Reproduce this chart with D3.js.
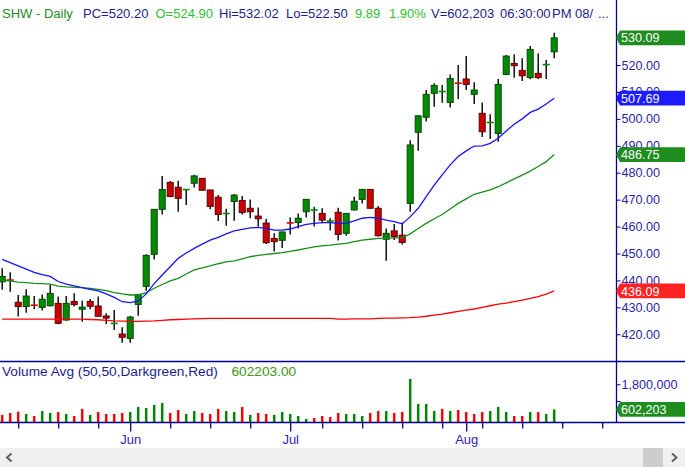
<!DOCTYPE html>
<html><head><meta charset="utf-8">
<script src="https://cdn.jsdelivr.net/npm/d3@7"></script>
<style>body{margin:0;background:#fff;} svg{display:block;font-family:"Liberation Sans",Arial,sans-serif;}</style>
</head><body><svg id="c" width="685" height="467"></svg>
<script>
// ---------- DATA ----------
const dates = [
"2019-05-09","2019-05-10","2019-05-13","2019-05-14","2019-05-15","2019-05-16","2019-05-17","2019-05-20","2019-05-21","2019-05-22",
"2019-05-23","2019-05-24","2019-05-28","2019-05-29","2019-05-30","2019-05-31","2019-06-03","2019-06-04","2019-06-05","2019-06-06",
"2019-06-07","2019-06-10","2019-06-11","2019-06-12","2019-06-13","2019-06-14","2019-06-17","2019-06-18","2019-06-19","2019-06-20",
"2019-06-21","2019-06-24","2019-06-25","2019-06-26","2019-06-27","2019-06-28","2019-07-01","2019-07-02","2019-07-03","2019-07-05",
"2019-07-08","2019-07-09","2019-07-10","2019-07-11","2019-07-12","2019-07-15","2019-07-16","2019-07-17","2019-07-18","2019-07-19",
"2019-07-22","2019-07-23","2019-07-24","2019-07-25","2019-07-26","2019-07-29","2019-07-30","2019-07-31","2019-08-01","2019-08-02",
"2019-08-05","2019-08-06","2019-08-07","2019-08-08","2019-08-09","2019-08-12","2019-08-13","2019-08-14","2019-08-15","2019-08-16"];
const futureDates = ["2019-08-19","2019-08-20","2019-08-21","2019-08-22","2019-08-23","2019-08-26","2019-08-27","2019-08-28","2019-08-29","2019-08-30"];

const opens = [439.5,440.3,431.9,430.3,430.9,430.0,430.6,431.5,425.3,432.2,
429.3,432.2,430.5,426.8,424.0,420.1,418.5,431.1,437.8,449.7,
466.4,476.4,474.6,473.7,476.1,477.9,473.6,470.9,464.8,469.3,
469.7,466.8,463.9,461.3,455.6,454.9,461.4,461.5,465.5,466.1,
464.9,462.0,465.3,457.5,466.2,470.1,473.8,466.8,455.3,458.4,
456.8,468.6,495.0,500.6,509.5,510.1,506.1,513.3,514.8,509.1,
502.05,498.6,494.6,516.5,520.6,518.0,515.3,516.9,520.1,524.90];
const highs = [444.5,443.0,434.6,436.7,434.2,434.8,438.3,434.0,434.2,435.2,
432.5,433.1,434.0,427.8,429.0,422.6,426.8,435.0,449.7,466.5,
478.8,476.9,477.0,474.0,479.2,478.0,473.7,471.7,466.6,472.1,
471.4,470.1,467.1,462.9,457.5,458.1,463.4,464.9,470.2,467.4,
466.8,463.1,467.0,465.0,471.1,473.9,473.9,467.6,459.3,461.0,
461.5,492.1,501.4,510.7,513.2,512.6,516.5,520.0,523.3,513.6,
506.1,501.7,514.8,523.7,524.0,522.5,527.1,524.3,521.85,532.02];
const lows = [436.5,435.8,426.6,428.0,429.3,428.8,430.3,423.7,425.0,430.3,
424.7,429.3,426.5,423.8,421.6,416.9,416.9,426.9,436.2,447.8,
464.5,470.9,465.5,468.0,474.5,473.4,466.4,462.1,460.3,462.2,
464.5,463.1,460.0,453.5,450.7,452.0,457.1,459.3,463.4,460.0,
461.2,458.5,454.8,456.6,466.0,468.6,466.7,456.3,447.3,455.0,
453.3,465.5,488.2,499.0,504.5,506.0,504.2,507.4,510.7,505.5,
493.3,492.5,491.5,516.3,515.3,514.1,514.7,514.8,514.8,522.50];
const closes = [441.5,440.0,430.3,434.2,430.7,433.0,435.2,424.1,431.5,431.0,
430.1,430.4,426.7,426.0,424.1,418.9,426.4,434.8,449.3,466.4,
473.8,471.2,470.5,473.8,478.8,473.5,467.5,464.5,464.9,471.7,
465.2,465.5,462.9,454.0,454.4,458.0,461.3,463.1,470.1,466.2,
462.4,462.1,457.1,464.9,469.4,473.8,466.8,456.6,457.5,456.3,
454.1,490.3,501.1,509.1,512.4,510.2,515.0,513.2,512.8,510.7,
495.2,498.7,512.8,523.3,519.75,516.0,525.8,515.3,520.20,530.09];
const priorClose = 443.0;

const volumes = [335000,431000,494000,383000,287000,526000,431000,478000,383000,287000,
622000,335000,478000,383000,383000,431000,478000,718000,670000,813000,
909000,431000,574000,383000,526000,431000,383000,622000,526000,478000,
718000,335000,431000,383000,335000,478000,383000,287000,144000,191000,
287000,239000,431000,383000,383000,287000,431000,526000,526000,431000,
478000,2057000,861000,861000,526000,622000,526000,574000,478000,383000,
478000,526000,718000,478000,287000,287000,478000,478000,383000,602203];

const maBlue = [447.8,446.6,445.4,444.2,443.0,442.2,441.5,439.6,438.6,438.0,
437.3,436.7,436.1,435.0,433.7,432.1,431.8,432.4,435.0,438.8,
442.0,445.1,448.2,450.2,451.9,453.5,455.0,456.0,457.3,458.4,
459.0,459.5,459.7,459.3,458.7,458.7,459.1,460.0,460.8,461.2,
461.5,461.5,461.2,461.2,462.1,463.1,463.4,463.1,462.4,461.8,
461.0,463.6,466.8,471.1,475.4,479.2,482.9,486.0,488.1,489.9,
490.0,490.9,492.8,495.5,498.0,500.0,502.4,503.6,505.5,507.69];
const maGreen = [440.1,439.8,439.4,439.2,438.9,438.8,438.6,437.9,437.6,437.4,
437.3,437.0,436.7,436.2,435.5,435.0,434.6,434.6,435.5,437.1,
438.5,439.8,440.8,442.4,443.9,444.7,445.4,446.2,446.9,447.3,
448.0,448.8,449.3,449.7,450.0,450.3,450.8,451.3,451.9,452.5,
452.8,453.1,453.5,453.8,454.4,455.0,455.3,455.6,455.6,455.8,
455.9,457.3,459.3,461.2,462.9,464.5,466.5,468.6,470.3,472.0,
472.8,473.6,474.8,476.2,477.7,479.1,480.6,482.3,484.1,486.75];
const maRed = [425.6,425.6,425.6,425.6,425.6,425.6,425.6,425.6,425.6,425.6,
425.6,425.5,425.4,425.2,425.0,424.9,424.8,424.8,424.9,425.0,
425.2,425.4,425.5,425.6,425.7,425.8,425.9,425.9,425.9,425.9,
425.9,425.9,425.9,425.9,425.9,425.9,425.9,425.9,425.9,425.9,
425.9,425.9,425.6,425.6,425.7,425.7,425.7,425.9,426.0,426.0,
426.1,426.2,426.4,426.7,427.1,427.5,428.0,428.5,429.0,429.4,
430.0,430.6,431.2,431.6,432.1,432.7,433.3,434.0,434.9,436.09];

const priceTicks = [420,430,440,450,460,470,480,490,500,510,520];
const volTicks = [1000000,1800000];
const volTickLabels = {1800000:"1,800,000"};
const weekTicks = ["2019-05-13","2019-05-20","2019-05-28","2019-06-10","2019-06-17","2019-06-24",
  "2019-07-08","2019-07-15","2019-07-22","2019-07-29","2019-08-05","2019-08-12","2019-08-19","2019-08-26"];
const monthTicks = ["2019-06-03","2019-07-01","2019-08-01"];
const monthLabels = ["Jun","Jul","Aug"];
const priceTags = [
  {v:530.09, t:"530.09", c:"#1e8c1e"},
  {v:507.69, t:"507.69", c:"#1c1cff"},
  {v:486.75, t:"486.75", c:"#1e8c1e"},
  {v:436.09, t:"436.09", c:"#ff2222"}];
const volTag = {v:602203, t:"602,203", c:"#1e8c1e"};
const header = [
  {x:2, t:"SHW - Daily", c:"#1e8c1e"},
  {x:83, t:"PC=520.20", c:"#1e1e8c"}, {x:155.5, t:"O=524.90", c:"#2ec02e"},
  {x:219, t:"Hi=532.02", c:"#1e1e8c"}, {x:286, t:"Lo=522.50", c:"#1e1e8c"},
  {x:355, t:"9.89", c:"#2ec02e"}, {x:389, t:"1.90%", c:"#2ec02e"},
  {x:431, t:"V=602,203", c:"#1e1e8c"}, {x:500, t:"06:30:00", c:"#1e1e8c"},
  {x:552, t:"PM", c:"#1e1e8c"}, {x:575, t:"08/", c:"#1e1e8c"}, {x:598, t:"...", c:"#1e1e8c"}];

// ---------- LAYOUT ----------
const AX = 616, PRICE_BOTTOM = 361, VOL_BOTTOM = 422;
const navy = "#00008b", labelCol = "#2a1fa8";
const svg = d3.select("#c");
const allDates = dates.concat(futureDates);
const x = d3.scalePoint().domain(allDates).range([2.2, 2.2 + 8*(allDates.length-1)]);
const y = d3.scaleLinear().domain([420,520]).range([334.3,65]);
const yv = d3.scaleLinear().domain([0,1800000]).range([VOL_BOTTOM,384.3]);

const defs = svg.append("defs");
defs.append("clipPath").attr("id","pc").append("rect").attr("x",0).attr("y",20).attr("width",AX).attr("height",PRICE_BOTTOM-20);
defs.append("clipPath").attr("id","vc").append("rect").attr("x",0).attr("y",PRICE_BOTTOM).attr("width",AX).attr("height",VOL_BOTTOM-PRICE_BOTTOM);

// header
svg.append("g").selectAll("text").data(header).join("text")
  .attr("x",d=>d.x).attr("y",17.5).attr("fill",d=>d.c)
  .attr("font-size",13).text(d=>d.t);

// candles
const bars = dates.map((d,i)=>({d, o:opens[i], h:highs[i], l:lows[i], c:closes[i]}));
const gp = svg.append("g").attr("clip-path","url(#pc)");
gp.selectAll("line.wick").data(bars).join("line").attr("class","wick")
  .attr("x1",d=>x(d.d)).attr("x2",d=>x(d.d)).attr("y1",d=>y(d.h)).attr("y2",d=>y(d.l))
  .attr("stroke","#000").attr("stroke-width",1.4);
const isDoji = d => Math.abs(y(d.o)-y(d.c)) < 1.3;
gp.selectAll("rect.body").data(bars.filter(d=>!isDoji(d))).join("rect").attr("class","body")
  .attr("x",d=>x(d.d)-3).attr("width",6)
  .attr("y",d=>y(Math.max(d.o,d.c))).attr("height",d=>Math.abs(y(d.o)-y(d.c)))
  .attr("fill",d=>d.c>=d.o?"#008a00":"#cc0000")
  .attr("stroke",d=>d.c>=d.o?"#004a00":"#5a0000").attr("stroke-width",1);
gp.selectAll("line.doji").data(bars.filter(isDoji)).join("line").attr("class","doji")
  .attr("x1",d=>x(d.d)-3.5).attr("x2",d=>x(d.d)+3.5)
  .attr("y1",d=>y((d.o+d.c)/2)).attr("y2",d=>y((d.o+d.c)/2))
  .attr("stroke",d=>d.c>=d.o?"#008a00":"#dd0000").attr("stroke-width",1.6);

// moving averages
const maLine = d3.line().x((v,i)=>x(dates[i])).y(v=>y(v)).curve(d3.curveLinear);
[[maRed,"#ff0000"],[maGreen,"#1a8c1a"],[maBlue,"#1414ff"]].forEach(([arr,col])=>{
  gp.append("path").attr("d",maLine(arr)).attr("fill","none").attr("stroke",col).attr("stroke-width",1.3);
});

// volume
const gv = svg.append("g").attr("clip-path","url(#vc)");
gv.selectAll("rect").data(volumes).join("rect")
  .attr("x",(v,i)=>x(dates[i])-1.25).attr("width",2.5)
  .attr("y",v=>yv(v)).attr("height",v=>VOL_BOTTOM-yv(v))
  .attr("fill",(v,i)=> closes[i] >= (i?closes[i-1]:priorClose) ? "#008a00" : "#ff0000");
svg.append("text").attr("x",2).attr("y",376).attr("font-size",13.7).attr("fill","#1e1e8c")
  .text("Volume Avg (50,50,Darkgreen,Red)");
svg.append("text").attr("x",231.5).attr("y",376).attr("font-size",13.7).attr("fill","#3a9a10")
  .text("602203.00");

// frame lines
svg.append("line").attr("x1",0).attr("x2",685).attr("y1",PRICE_BOTTOM+0.5).attr("y2",PRICE_BOTTOM+0.5).attr("stroke",navy).attr("stroke-width",1.3);
svg.append("line").attr("x1",0).attr("x2",685).attr("y1",VOL_BOTTOM+0.5).attr("y2",VOL_BOTTOM+0.5).attr("stroke",navy).attr("stroke-width",1.5);
svg.append("line").attr("x1",AX+0.5).attr("x2",AX+0.5).attr("y1",0).attr("y2",VOL_BOTTOM+1).attr("stroke",navy).attr("stroke-width",1.3);

// right price axis
const pa = svg.append("g").attr("transform",`translate(${AX+0.5},0)`)
  .call(d3.axisRight(y).tickValues(priceTicks).tickSize(4).tickPadding(1).tickFormat(d3.format(".2f")));
pa.select(".domain").remove();
pa.selectAll("line").attr("stroke",navy);
pa.selectAll("text").attr("fill",labelCol).attr("font-size",12.6).attr("font-family","Liberation Sans, Arial, sans-serif");

// volume axis
const va = svg.append("g").attr("transform",`translate(${AX+0.5},0)`)
  .call(d3.axisRight(yv).tickValues(volTicks).tickSize(4).tickPadding(1).tickFormat(d=>volTickLabels[d]||""));
va.select(".domain").remove();
va.selectAll("line").attr("stroke",navy);
va.selectAll("text").attr("fill",labelCol).attr("font-size",12.6).attr("font-family","Liberation Sans, Arial, sans-serif");

// tags
function tag(cy, text, col){
  const g = svg.append("g");
  g.append("path").attr("d",`M${AX},${cy} L${AX+4},${cy-7.4} L685,${cy-7.4} L685,${cy+7.4} L${AX+4},${cy+7.4} Z`).attr("fill",col);
  g.append("text").attr("x",AX+5).attr("y",cy+4.6).attr("fill","#fff").attr("font-size",12.6).text(text);
}
priceTags.forEach(t=>tag(y(t.v), t.t, t.c));
tag(yv(volTag.v), volTag.t, volTag.c);

// bottom time axis
const wa = svg.append("g").attr("transform",`translate(0,${VOL_BOTTOM+0.5})`)
  .call(d3.axisBottom(x).tickValues(weekTicks).tickSize(6).tickFormat(""));
wa.select(".domain").remove();
wa.selectAll("line").attr("stroke",navy).attr("stroke-width",1.3);
const ma = svg.append("g").attr("transform",`translate(0,${VOL_BOTTOM+0.5})`)
  .call(d3.axisBottom(x).tickValues(monthTicks).tickSize(9).tickPadding(3).tickFormat((d,i)=>monthLabels[i]));
ma.select(".domain").remove();
ma.selectAll("line").attr("stroke",navy).attr("stroke-width",1.3);
ma.selectAll("text").attr("fill","#3322bb").attr("font-size",13).attr("font-family","Liberation Sans, Arial, sans-serif");

// scrollbar
svg.append("rect").attr("x",0).attr("y",448).attr("width",685).attr("height",19).attr("fill","#f0f0f0");
svg.append("rect").attr("x",643).attr("y",448).attr("width",20).attr("height",19).attr("fill","#cdcdcd");
svg.append("path").attr("d","M11.5,453.5 L7,457.5 L11.5,461.5").attr("fill","none").attr("stroke","#606060").attr("stroke-width",2);
svg.append("path").attr("d","M672,453.5 L676.5,457.5 L672,461.5").attr("fill","none").attr("stroke","#606060").attr("stroke-width",2);
</script></body></html>
